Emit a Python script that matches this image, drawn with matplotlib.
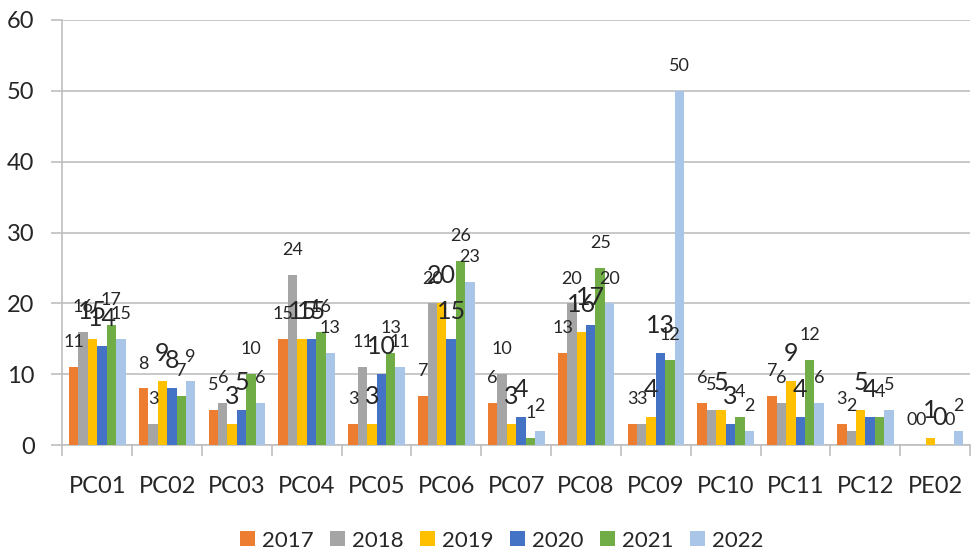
import matplotlib
matplotlib.use("Agg")
import matplotlib.pyplot as plt
import numpy as np

categories = ["PC01", "PC02", "PC03", "PC04", "PC05", "PC06", "PC07",
              "PC08", "PC09", "PC10", "PC11", "PC12", "PE02"]
years = ["2017", "2018", "2019", "2020", "2021", "2022"]
v2017 = [11, 8, 5, 15, 3, 7, 6, 13, 3, 6, 7, 3, 0]
v2018 = [16, 3, 6, 24, 11, 20, 10, 20, 3, 5, 6, 2, 0]
v2019 = [15, 9, 3, 15, 3, 20, 3, 16, 4, 5, 9, 5, 1]
v2020 = [14, 8, 5, 15, 10, 15, 4, 17, 13, 3, 4, 4, 0]
v2021 = [17, 7, 10, 16, 13, 26, 1, 25, 12, 4, 12, 4, 0]
v2022 = [15, 9, 6, 13, 11, 23, 2, 20, 50, 2, 6, 5, 2]
series = [v2017, v2018, v2019, v2020, v2021, v2022]
colors = ["#ED7D31", "#A5A5A5", "#FFC000", "#4472C4", "#70AD47", "#A9C5E8"]
label_sizes = [13, 13, 18, 18, 13, 13]

plt.rcParams['font.family'] = ['Lato', 'DejaVu Sans']

fig = plt.figure(figsize=(9.74, 5.55), dpi=100)
ax = fig.add_axes([0.064, 0.198, 0.932, 0.766])

x = np.arange(len(categories))
n = len(series)
bw = 0.135
for i, (vals, c, yr, fs) in enumerate(zip(series, colors, years, label_sizes)):
    pos = x + (i - (n - 1) / 2) * bw
    ax.bar(pos, vals, width=bw, color=c, label=yr, zorder=3)
    for p, v in zip(pos, vals):
        ax.text(p, v + (3.9 if fs > 13 else 3.5), str(v), ha='center', va='center',
                fontsize=fs, color='#262626', zorder=4)

ax.set_ylim(0, 60)
ax.set_xlim(-0.5, len(categories) - 0.5)
ax.set_yticks(range(0, 61, 10))
ax.yaxis.grid(True, color='#BFBFBF', linewidth=1.2, zorder=0)
ax.tick_params(axis='y', length=8, color='#BFBFBF', width=1.2, labelsize=17,
               labelcolor='#262626', pad=12)
ax.set_xticks(x)
ax.set_xticklabels(categories)
ax.tick_params(axis='x', length=0, labelsize=17, labelcolor='#262626', pad=22)
ax.set_xticks(np.arange(-0.5, len(categories), 1), minor=True)
ax.tick_params(axis='x', which='minor', length=8, color='#BFBFBF', width=1.2)
for s in ['top', 'right']:
    ax.spines[s].set_visible(False)
for s in ['left', 'bottom']:
    ax.spines[s].set_color('#BFBFBF')
    ax.spines[s].set_linewidth(1.2)

fig.legend(loc='lower center', bbox_to_anchor=(0.515, -0.028), ncol=6, frameon=False,
           fontsize=16, handlelength=0.68, handleheight=0.68, columnspacing=0.75,
           handletextpad=0.3, labelcolor='#262626')

fig.savefig("out.png", dpi=100)
